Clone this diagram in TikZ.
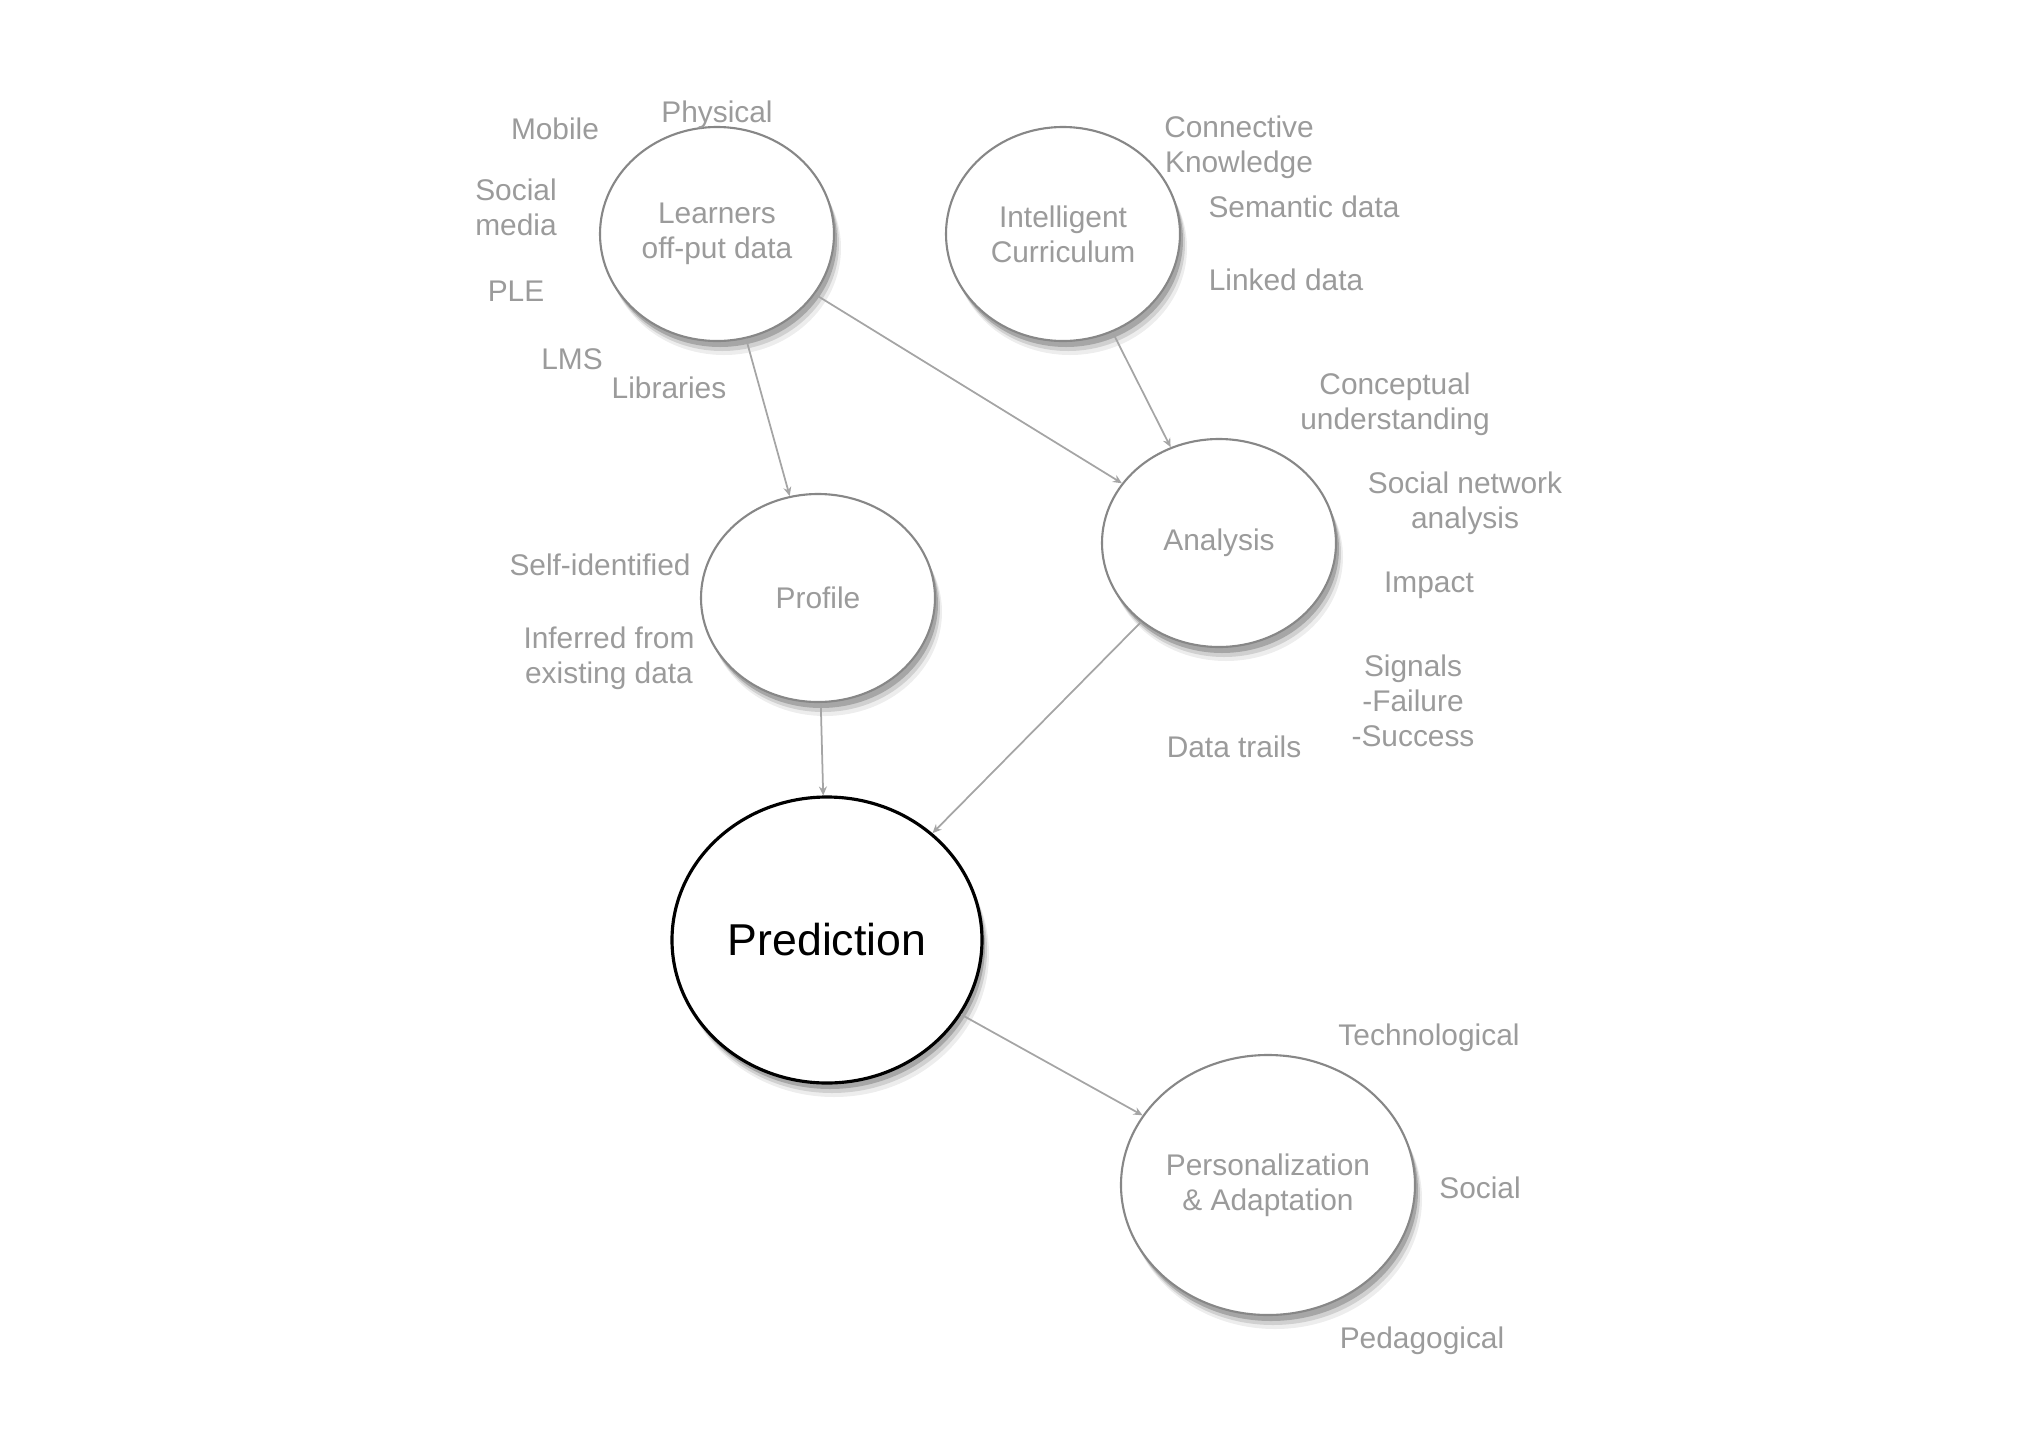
\documentclass[tikz,border=0pt]{standalone}
\usepackage{fontspec}
\setmainfont{Liberation Sans}
\usetikzlibrary{%
  arrows.meta,%
  shapes.geometric,% wg. ellipse
  shadows,%
  positioning%
}
\definecolor{labelgray}{RGB}{155,155,155}
\definecolor{linegray}{RGB}{165,165,165}
\definecolor{rimgray}{RGB}{135,135,135}

\begin{document}
\begin{tikzpicture}
[line width=0.5pt, >={Stealth[length=0.9mm,width=0.8mm]},
bubble/.style={ellipse, draw=rimgray, fill=white, line width=0.6pt, text=labelgray, font=\fontsize{8.5}{10}\selectfont, align=center, inner sep=0pt,
  drop shadow={shadow xshift=0.7mm, shadow yshift=-1.4mm, opacity=0.07, fill=black},
  drop shadow={shadow xshift=0.5mm, shadow yshift=-1.0mm, opacity=0.12, fill=black},
  drop shadow={shadow xshift=0.3mm, shadow yshift=-0.6mm, opacity=0.2, fill=black}},
hub/.style={bubble, draw=black, line width=0.9pt, text=black, font=\fontsize{12.7}{14}\selectfont},
tag/.style={text=labelgray, font=\fontsize{8.5}{10}\selectfont, align=center, inner sep=0pt, yshift=-0.3mm},
link/.style={draw=linegray, ->}]

\useasboundingbox (0,0) rectangle (20.37,-14.40);

\node[bubble, minimum width=2.34cm, minimum height=2.14cm] (learn) at (7.17,-2.34) {Learners\\off-put data};
\node[bubble, minimum width=2.34cm, minimum height=2.14cm] (curric) at (10.63,-2.34) {Intelligent\\Curriculum};
\node[bubble, minimum width=2.34cm, minimum height=2.08cm] (profile) at (8.18,-5.98) {Profile};
\node[bubble, minimum width=2.34cm, minimum height=2.08cm] (analysis) at (12.19,-5.43) {Analysis};
\node[hub, minimum width=3.10cm, minimum height=2.86cm] (predict) at (8.27,-9.40) {Prediction};
\node[bubble, minimum width=2.94cm, minimum height=2.60cm] (personal) at (12.68,-11.85) {Personalization\\\&~Adaptation};

\node[tag] (mobile) at (5.55,-1.26) {Mobile};
\node[tag] (physical) at (7.17,-1.12) {Physical};
\node[tag] (socmedia) at (5.16,-2.04) {Social\\media};
\node[tag] (ple) at (5.16,-2.88) {PLE};
\node[tag] (lms) at (5.72,-3.56) {LMS};
\node[tag] (libraries) at (6.69,-3.85) {Libraries};

\node[tag] (connective) at (12.39,-1.44) {Connective\\Knowledge};
\node[tag] (semantic) at (13.04,-2.04) {Semantic data};
\node[tag] (linked) at (12.86,-2.77) {Linked data};

\node[tag] (concept) at (13.95,-4.01) {Conceptual\\understanding};
\node[tag] (sna) at (14.65,-5.00) {Social network\\analysis};
\node[tag] (impact) at (14.29,-5.82) {Impact};
\node[tag] (signals) at (14.13,-6.98) {Signals\\-Failure\\-Success};
\node[tag] (trails) at (12.34,-7.44) {Data trails};

\node[tag] (selfid) at (6.00,-5.62) {Self-identified};
\node[tag] (inferred) at (6.09,-6.55) {Inferred from\\existing data};

\node[tag] (techno) at (14.29,-10.35) {Technological};
\node[tag] (social) at (14.80,-11.85) {Social};
\node[tag] (pedago) at (14.22,-13.38) {Pedagogical};

\draw[link] (learn) -- (profile);
\draw[link] (learn) -- (analysis);
\draw[link] (curric) -- (analysis);
\draw[link] (profile) -- (predict);
\draw[link] (analysis) -- (predict);
\draw[link] (predict) -- (personal);

\end{tikzpicture}
\end{document}
